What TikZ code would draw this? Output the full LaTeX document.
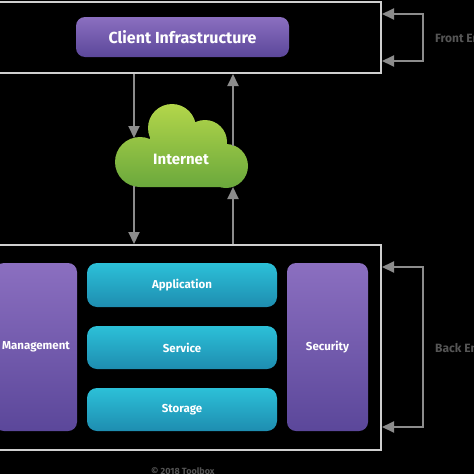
\documentclass[tikz,border=0pt]{standalone}
\usepackage{fontspec}
\setmainfont{Fira Sans}
\usetikzlibrary{arrows.meta}
\definecolor{framec}{HTML}{CFCFCF}
\definecolor{arrc}{HTML}{8C8C8C}
\definecolor{purtop}{HTML}{8B6FC0}
\definecolor{purbot}{HTML}{5B479A}
\definecolor{cyantop}{HTML}{2CC0D8}
\definecolor{cyanbot}{HTML}{1E8DB0}
\definecolor{greentop}{HTML}{B3D64A}
\definecolor{greenbot}{HTML}{6AA83C}
\definecolor{sidetext}{HTML}{555555}
\tikzset{
  frame/.style={draw=framec, line width=2pt, inner sep=0pt},
  purplebox/.style={rounded corners=9pt, top color=purtop, bottom color=purbot, inner sep=0pt,
    text=white, font=\bfseries\fontsize{11.5}{13}\selectfont},
  cyanbox/.style={rounded corners=10pt, top color=cyantop, bottom color=cyanbot, inner sep=0pt,
    minimum width=190pt, text=white, font=\bfseries\fontsize{11.5}{13}\selectfont},
  arr/.style={draw=arrc, line width=2pt, -{Triangle[length=12pt,width=11pt]}},
  sidelabel/.style={text=sidetext, font=\bfseries\fontsize{12}{14}\selectfont, anchor=west, inner sep=0pt},
}
\begin{document}
\begin{tikzpicture}[x=1pt,y=-1pt]
\useasboundingbox (0,0) rectangle (474,474);
\clip (0,0) rectangle (474,474);
\fill[black] (0,0) rectangle (474,474);

% frames
\node[frame, minimum width=391pt, minimum height=71pt] (topframe) at (185.5,37.5) {};
\node[frame, minimum width=391pt, minimum height=205pt] (botframe) at (185.5,347.5) {};

% top box
\node[purplebox, minimum width=213pt, minimum height=40pt, font=\bfseries\fontsize{16}{18}\selectfont] (client) at (182.5,37) {Client Infrastructure};

% bottom boxes
\node[purplebox, minimum width=82pt, minimum height=168pt] (mgmt) at (36,347) {Management};
\node[purplebox, minimum width=81pt, minimum height=168pt] (sec) at (327.5,347) {Security};
\node[cyanbox, minimum height=44pt] (app) at (182,285) {Application};
\node[cyanbox, minimum height=43pt] (serv) at (182,347.5) {Service};
\node[cyanbox, minimum height=43pt] (stor) at (182,409.5) {Storage};

% cloud
\shade[top color=greentop, bottom color=greenbot]
  (140,162) circle[radius=25]
  (172,128) circle[radius=24]
  (205,142) circle[radius=22]
  (226,166) circle[radius=22]
  (150,187) rectangle (215,130)
  (140,187) rectangle (226,165);
\node[text=white, font=\bfseries\fontsize{15}{17}\selectfont, inner sep=0pt] (inet) at (181,159) {Internet};

\coordinate (cin1) at (134,138);
\coordinate (cout1) at (233,146);
\coordinate (cin2) at (134,186);
\coordinate (cout2) at (233,187);

% vertical connectors
\draw[arr] (topframe.south -| cin1) -- (cin1);
\draw[arr] (cin2) -- (botframe.north -| cin2);
\draw[arr] (botframe.north -| cout2) -- (cout2);
\draw[arr] (cout1) -- (topframe.south -| cout1);

% feedback brackets
\coordinate (ft) at (423,14);
\coordinate (fb) at (423,61);
\coordinate (bt) at (423,267);
\coordinate (bb) at (423,427);
\draw[arr] (fb) -- (ft) -- (topframe.east |- ft);
\draw[arr] (ft) -- (fb) -- (topframe.east |- fb);
\draw[arr] (bb) -- (bt) -- (botframe.east |- bt);
\draw[arr] (bt) -- (bb) -- (botframe.east |- bb);

\node[sidelabel] (frontlab) at (435,38) {Front End};
\node[sidelabel] (backlab) at (435,348) {Back End};
\node[text=sidetext, font=\bfseries\fontsize{9}{10}\selectfont, anchor=west, inner sep=0pt] (copy) at (151,471) {© 2018 Toolbox};
\end{tikzpicture}
\end{document}
